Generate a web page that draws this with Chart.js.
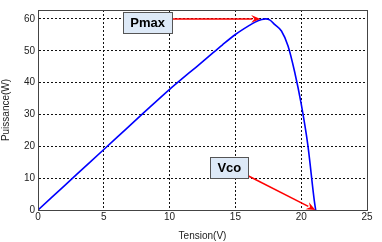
<!DOCTYPE html>
<html>
<head>
<meta charset="utf-8">
<script src="https://cdn.jsdelivr.net/npm/chart.js@4/dist/chart.umd.min.js"></script>
<style>
  html, body { margin: 0; padding: 0; background: #fff; }
  #wrap { width: 382px; height: 242px; }
</style>
</head>
<body>
<div id="wrap"><canvas id="pv"></canvas></div>
<script>
// courbe P(V) du panneau
const tension = [0, 2, 4, 6, 8, 10, 11, 12, 13, 14, 15, 16, 16.5, 17, 17.3, 17.6, 18, 18.5, 19, 19.5, 20, 20.5, 21, 21.1];
const puissance = [0, 7.6, 15.2, 22.8, 30.4, 37.9, 41.4, 44.8, 48.3, 51.8, 55.1, 57.8, 59, 59.8, 60, 59.7, 58.2, 56.2, 51.5, 43.4, 33.3, 20.5, 2.8, 0];

const xTicks = [0, 5, 10, 15, 20, 25];
const yTicks = [0, 10, 20, 30, 40, 50, 60];

// annotations (in data coordinates)
const pmaxNote = { text: 'Pmax', x: 8.33, y: 58.8, from: [10.05, 60], to: [16.9, 60] };
const vcoNote = { text: 'Vco', x: 14.54, y: 13.3, from: [15.96, 10.75], to: [21.08, 0] };

const FONT = '"Liberation Sans", Arial, sans-serif';

function drawArrow(ctx, x1, y1, x2, y2) {
  const ang = Math.atan2(y2 - y1, x2 - x1);
  const head = 10;
  ctx.strokeStyle = '#ff0000';
  ctx.fillStyle = '#ff0000';
  ctx.lineWidth = 1.5;
  ctx.beginPath();
  ctx.moveTo(x1, y1);
  ctx.lineTo(x2 - Math.cos(ang) * head * 0.8, y2 - Math.sin(ang) * head * 0.8);
  ctx.stroke();
  ctx.beginPath();
  ctx.moveTo(x2, y2);
  ctx.lineTo(x2 - head * Math.cos(ang - 0.4), y2 - head * Math.sin(ang - 0.4));
  ctx.lineTo(x2 - head * 0.6 * Math.cos(ang), y2 - head * 0.6 * Math.sin(ang));
  ctx.lineTo(x2 - head * Math.cos(ang + 0.4), y2 - head * Math.sin(ang + 0.4));
  ctx.closePath();
  ctx.fill();
}

function drawNote(ctx, xs, ys, note) {
  const ax = xs.getPixelForValue(note.from[0]);
  const ay = ys.getPixelForValue(note.from[1]);
  drawArrow(ctx, ax, ay, xs.getPixelForValue(note.to[0]), ys.getPixelForValue(note.to[1]));

  const cx = xs.getPixelForValue(note.x);
  const cy = ys.getPixelForValue(note.y);
  ctx.font = 'bold 13px ' + FONT;
  const w = ctx.measureText(note.text).width + 14;
  const h = 21;
  ctx.fillStyle = '#dde9f7';
  ctx.strokeStyle = '#555';
  ctx.lineWidth = 1;
  ctx.fillRect(cx - w / 2, cy - h / 2, w, h);
  ctx.strokeRect(Math.round(cx - w / 2) + 0.5, Math.round(cy - h / 2) + 0.5, Math.round(w), h);
  ctx.fillStyle = '#000';
  ctx.textAlign = 'center';
  ctx.textBaseline = 'middle';
  ctx.fillText(note.text, cx, cy + 1);
}

const notesPlugin = {
  id: 'notes',
  afterDatasetsDraw(chart) {
    const { ctx, chartArea: a, scales } = chart;
    ctx.save();
    // cadre complet
    ctx.strokeStyle = '#444';
    ctx.lineWidth = 1;
    ctx.setLineDash([]);
    ctx.strokeRect(Math.round(a.left) + 0.5, Math.round(a.top) + 0.5, Math.round(a.right - a.left), Math.round(a.bottom - a.top));
    drawNote(ctx, scales.x, scales.y, pmaxNote);
    drawNote(ctx, scales.x, scales.y, vcoNote);
    ctx.restore();
  },
};

new Chart(document.getElementById('pv'), {
  type: 'scatter',
  data: {
    datasets: [{
      data: tension.map((v, i) => ({ x: v, y: puissance[i] })),
      showLine: true,
      borderColor: '#0000ff',
      borderWidth: 1.6,
      pointRadius: 0,
      cubicInterpolationMode: 'monotone',
    }],
  },
  options: {
    responsive: true,
    maintainAspectRatio: false,
    animation: false,
    layout: { padding: { top: 10, right: 15, left: 0, bottom: 0 } },
    plugins: { legend: { display: false }, tooltip: { enabled: false } },
    scales: {
      x: {
        type: 'linear',
        min: 0,
        max: 25,
        afterBuildTicks: (s) => { s.ticks = xTicks.map((v) => ({ value: v })); },
        afterFit: (s) => { s.height = 32; },
        ticks: { color: '#222', font: { family: FONT, size: 10 }, padding: 1, maxRotation: 0 },
        grid: { color: '#111', lineWidth: 1, drawTicks: false },
        border: { display: true, color: '#444', dash: [2, 2] },
        title: { display: true, text: 'Tension(V)', color: '#222', font: { family: FONT, size: 10 }, padding: { top: 2, bottom: 0 } },
      },
      y: {
        type: 'linear',
        min: 0,
        max: 62.8,
        afterBuildTicks: (s) => { s.ticks = yTicks.map((v) => ({ value: v })); },
        afterFit: (s) => { s.width = 38; },
        ticks: { color: '#222', font: { family: FONT, size: 10 }, padding: 3 },
        grid: { color: '#111', lineWidth: 1, drawTicks: false },
        border: { display: true, color: '#444', dash: [2, 2] },
        title: { display: true, text: 'Puissance(W)', color: '#222', font: { family: FONT, size: 10 }, padding: { top: 0, bottom: 0 } },
      },
    },
  },
  plugins: [notesPlugin],
});
</script>
</body>
</html>
